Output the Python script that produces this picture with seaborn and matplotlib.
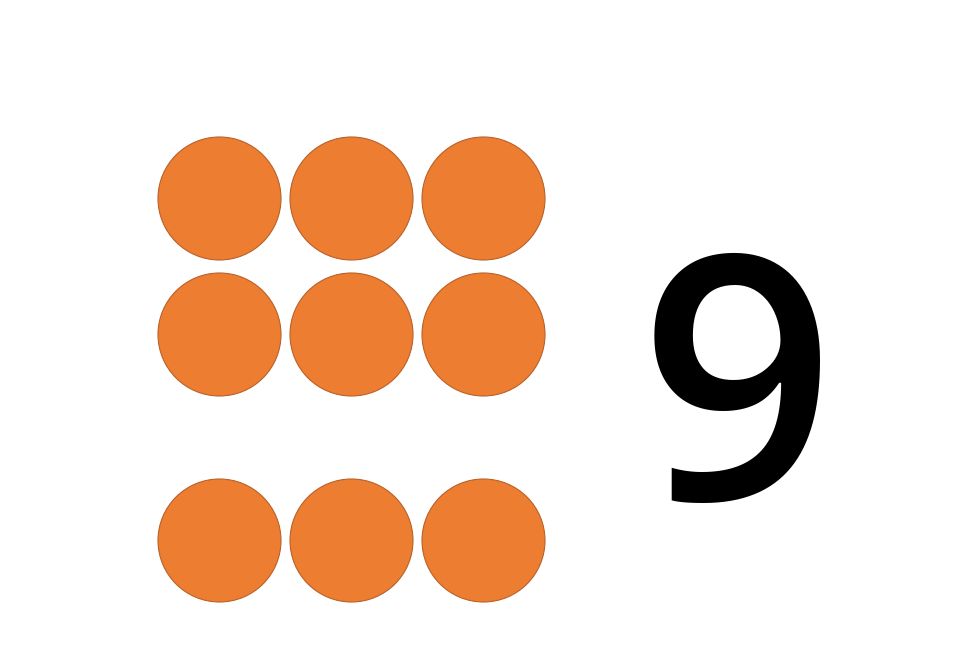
import matplotlib
matplotlib.use("Agg")
import matplotlib.pyplot as plt
import seaborn as sns
import pandas as pd

# dot grid positions in pixel space of the slide
cols = [219, 351, 483]
rows = [198, 334, 540]
number_label = "9"

dots = pd.DataFrame([(x, y) for y in rows for x in cols], columns=["x", "y"])

sns.set_theme(style="white")
fig = plt.figure(figsize=(9.6, 6.72), dpi=100)
ax = fig.add_axes([0, 0, 1, 1])
diam_pt = 123 * 72 / 100
sns.scatterplot(data=dots, x="x", y="y", s=diam_pt ** 2, color="#ED7D31",
                edgecolor="#B9612A", linewidth=0.8, ax=ax, legend=False)
ax.text(737, 411, number_label, fontsize=246, family=["Open Sans", "DejaVu Sans"],
        fontweight="semibold", ha="center", va="center", color="black")
ax.set_xlim(0, 960); ax.set_ylim(672, 0)
ax.set_axis_off()
fig.savefig("out.png", dpi=100)
